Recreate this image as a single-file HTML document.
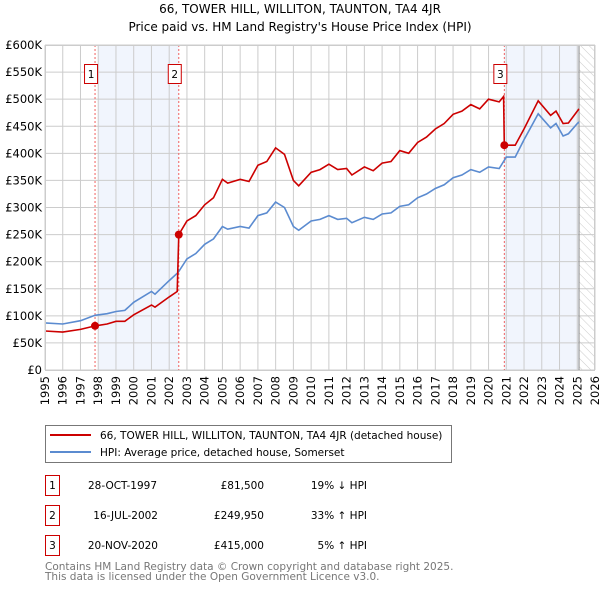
<!DOCTYPE html>
<html><head><meta charset="utf-8"><style>
body{margin:0;background:#fff;font-family:"DejaVu Sans","Liberation Sans",sans-serif;}
svg{display:block}
</style></head><body>
<svg id="c" width="600" height="590" viewBox="0 0 600 590" xmlns="http://www.w3.org/2000/svg" font-family="DejaVu Sans, Liberation Sans, sans-serif">
<defs><pattern id="hatch" width="6" height="6" patternUnits="userSpaceOnUse" patternTransform="rotate(-45)"><line x1="0" y1="0" x2="0" y2="6" stroke="#ccc" stroke-width="1"/></pattern></defs>
<text x="300" y="13" text-anchor="middle" font-size="12" fill="#000">66, TOWER HILL, WILLITON, TAUNTON, TA4 4JR</text>
<text x="300" y="31" text-anchor="middle" font-size="12" fill="#000">Price paid vs. HM Land Registry's House Price Index (HPI)</text>
<g id="plot"></g>
<g>
<rect x="45.5" y="425.5" width="406" height="37" fill="#fff" stroke="#777"/>
<line x1="50" y1="435" x2="91" y2="435" stroke="#cc0000" stroke-width="2"/>
<text x="100" y="439" font-size="10.5">66, TOWER HILL, WILLITON, TAUNTON, TA4 4JR (detached house)</text>
<line x1="50" y1="452" x2="91" y2="452" stroke="#5b8bd0" stroke-width="2"/>
<text x="100" y="456" font-size="10.5">HPI: Average price, detached house, Somerset</text>
</g>
<g font-size="10.5">
<rect x="45.5" y="475.5" width="14" height="20" fill="#fff" stroke="#cc0000"/><text x="52.5" y="489" text-anchor="middle">1</text>
<text x="157" y="489" text-anchor="end">28-OCT-1997</text><text x="264" y="489" text-anchor="end">£81,500</text><text x="367" y="489" text-anchor="end">19% ↓ HPI</text>
<rect x="45.5" y="505.5" width="14" height="20" fill="#fff" stroke="#cc0000"/><text x="52.5" y="519" text-anchor="middle">2</text>
<text x="158" y="519" text-anchor="end">16-JUL-2002</text><text x="264" y="519" text-anchor="end">£249,950</text><text x="367" y="519" text-anchor="end">33% ↑ HPI</text>
<rect x="45.5" y="535.5" width="14" height="20" fill="#fff" stroke="#cc0000"/><text x="52.5" y="549" text-anchor="middle">3</text>
<text x="158" y="549" text-anchor="end">20-NOV-2020</text><text x="264" y="549" text-anchor="end">£415,000</text><text x="367" y="549" text-anchor="end">5% ↑ HPI</text>
</g>
<text x="45" y="570" font-size="10.5" fill="#777">Contains HM Land Registry data © Crown copyright and database right 2025.</text>
<text x="45" y="580" font-size="10.5" fill="#777">This data is licensed under the Open Government Licence v3.0.</text>
</svg>
<script>
const yTicks=[0,50,100,150,200,250,300,350,400,450,500,550,600];
const yLabels=["£0","£50K","£100K","£150K","£200K","£250K","£300K","£350K","£400K","£450K","£500K","£550K","£600K"];
const years=[1995,1996,1997,1998,1999,2000,2001,2002,2003,2004,2005,2006,2007,2008,2009,2010,2011,2012,2013,2014,2015,2016,2017,2018,2019,2020,2021,2022,2023,2024,2025,2026];
const hpiT=[1995,1996,1997,1997.82,1998.5,1999,1999.5,2000,2001,2001.2,2002,2002.5,2003,2003.5,2004,2004.5,2005,2005.3,2006,2006.5,2007,2007.5,2008,2008.5,2009,2009.3,2010,2010.5,2011,2011.5,2012,2012.3,2013,2013.5,2014,2014.5,2015,2015.5,2016,2016.5,2017,2017.5,2018,2018.5,2019,2019.5,2020,2020.6,2021,2021.5,2022,2022.8,2023.5,2023.8,2024.2,2024.5,2025,2025.1];
const hpiV=[87,85,91,101,104,108,110,125,145,140,165,180,205,215,232,242,265,260,265,262,285,290,310,300,265,258,275,278,285,278,280,272,282,278,288,290,302,305,318,325,335,342,355,360,370,365,375,372,393,393,425,473,447,455,432,436,455,458];
const redT=[1995,1996,1997,1997.82,1998.5,1999,1999.5,2000,2001,2001.2,2002,2002.45,2002.54,2003,2003.5,2004,2004.5,2005,2005.3,2006,2006.5,2007,2007.5,2008,2008.5,2009,2009.3,2010,2010.5,2011,2011.5,2012,2012.3,2013,2013.5,2014,2014.5,2015,2015.5,2016,2016.5,2017,2017.5,2018,2018.5,2019,2019.5,2020,2020.6,2020.85,2020.89,2021.5,2022,2022.8,2023.5,2023.8,2024.2,2024.5,2025,2025.1];
const redV=[72,70,75,81.5,85,90,90,102,120,116,135,145,249.95,275,285,305,318,352,345,352,348,378,385,410,398,350,340,365,370,380,370,372,360,375,368,382,385,405,400,420,430,445,455,472,478,490,482,500,495,505,415,415,445,497,470,478,455,456,478,482];
const saleT=[1997.82,2002.54,2020.89];
const saleV=[81.5,249.95,415];
const saleLabels=["1","2","3"];
const NS="http://www.w3.org/2000/svg";
const L=45,R=595,T=45,B=370;
const x=t=>L+(t-1995)/(2026-1995)*(R-L);
const y=v=>B-v/600*(B-T);
const g=document.getElementById('plot');
function mk(tag,attrs,parent){const e=document.createElementNS(NS,tag);for(const k in attrs)e.setAttribute(k,attrs[k]);(parent||g).appendChild(e);return e;}
let e;
e=mk('rect',{x:x(1998),y:T,width:x(2002.54)-x(1998),height:B-T,fill:'#eef3fc',opacity:0.8});


e=mk('rect',{x:x(2020.89),y:T,width:x(2025.1)-x(2020.89),height:B-T,fill:'#eef3fc',opacity:0.8});


e=mk('rect',{x:x(2025.1),y:T,width:R-x(2025.1),height:B-T,fill:'url(#hatch)'});


years.forEach(yr=>{e=mk('line',{x1:x(yr),x2:x(yr),y1:T,y2:B,stroke:'#ccc','stroke-width':1});


const tx=x(yr)+4,ty=B+6;
e=mk('text',{x:tx,y:ty,transform:`rotate(-90 ${tx} ${ty})`,'text-anchor':'end','font-size':11.5});e.textContent=yr;

});
yTicks.forEach((v,i)=>{e=mk('line',{x1:L,x2:R,y1:y(v),y2:y(v),stroke:'#ccc','stroke-width':1});


e=mk('text',{x:L-3,y:y(v)+4,'text-anchor':'end','font-size':11.5});e.textContent=yLabels[i];

});
e=mk('line',{x1:x(2025.1),x2:x(2025.1),y1:T,y2:B,stroke:'#888','stroke-width':1});


saleT.forEach((t,i)=>{e=mk('line',{x1:x(t),x2:x(t),y1:T,y2:B,stroke:'#f06060','stroke-width':1,'stroke-dasharray':'2,2'});

});
const pts=(ts,vs)=>ts.map((t,i)=>x(t).toFixed(1)+','+y(vs[i]).toFixed(1)).join(' ');
e=mk('polyline',{points:pts(hpiT,hpiV),fill:'none',stroke:'#5b8bd0','stroke-width':1.6});


e=mk('polyline',{points:pts(redT,redV),fill:'none',stroke:'#cc0000','stroke-width':1.6});


saleT.forEach((t,i)=>{e=mk('circle',{cx:x(t),cy:y(saleV[i]),r:4,fill:'#cc0000'});


const bx=x(t)-14+(i===2?6:0)-(i===2?6:0);
e=mk('rect',{x:x(t)-10.5,y:64.5,width:13,height:19,fill:'#fff',stroke:'#cc0000'});


e=mk('text',{x:x(t)-4,y:78,'text-anchor':'middle','font-size':10.5});e.textContent=saleLabels[i];

});
e=mk('rect',{x:L+0.5,y:T+0.5,width:R-L-1,height:B-T,fill:'none',stroke:'#ccc'});


</script>
</body></html>
